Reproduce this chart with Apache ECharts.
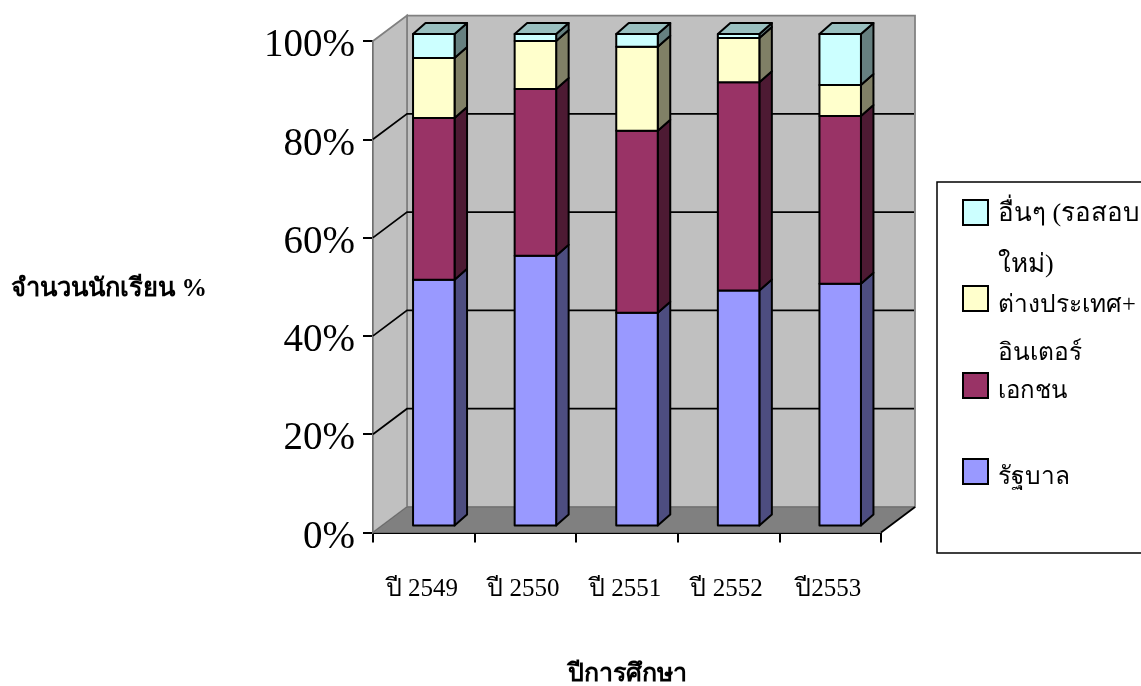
<!DOCTYPE html>
<html><head><meta charset="utf-8">
<style>html,body{margin:0;padding:0;background:#fff}#c{width:1141px;height:686px}</style>
<script src="https://cdn.jsdelivr.net/npm/echarts@6/dist/echarts.min.js"></script>
</head><body><div id="c"></div>
<script>
const categories = ['ปี 2549','ปี 2550','ปี 2551','ปี 2552','ปี2553'];
const govt    = [50.0, 54.9, 43.3, 47.8, 49.2];
const priv    = [32.9, 33.9, 37.0, 42.4, 34.1];
const abroad  = [12.2,  9.8, 17.1,  9.0,  6.3];
const other   = [ 4.9,  1.4,  2.6,  0.8, 10.4];
const yTicks  = [0, 20, 40, 60, 80, 100];
const seriesNames = ['รัฐบาล','เอกชน','ต่างประเทศ+ อินเตอร์','อื่นๆ (รอสอบ ใหม่)'];
const seriesValues = [govt, priv, abroad, other];
const faceColors = ['#9999FF','#993366','#FFFFCC','#CCFFFF'];
const sideColors = ['#4D4D80','#4D1A33','#808066','#668080'];
const topColors  = ['#7373BF','#73264D','#BFBF99','#99BFBF'];
const FONT = '"Liberation Serif","Times New Roman",serif';
const WALL = [34, -25.5], BAR_D = [12.5, -11], BAR_OFF = [10, -7], BAR_W = 41.5;

function wallItem(params, api) {
  const cs = params.coordSys, L = cs.x, R = cs.x + cs.width, T = cs.y, B = cs.y + cs.height;
  const dx = WALL[0], dy = WALL[1];
  const ch = [
    {type:'polygon', shape:{points:[[L+dx,T+dy],[R+dx,T+dy],[R+dx,B+dy],[L+dx,B+dy]]}, style:{fill:'#C0C0C0',stroke:'#808080',lineWidth:1.75}},
    {type:'polygon', shape:{points:[[L,T],[L+dx,T+dy],[L+dx,B+dy],[L,B]]}, style:{fill:'#C0C0C0',stroke:'#808080',lineWidth:1.75}},
    {type:'polygon', shape:{points:[[L,B],[L+dx,B+dy],[R+dx,B+dy],[R,B]]}, style:{fill:'#808080',stroke:'#6a6a6a',lineWidth:1}},
    {type:'line', shape:{x1:R,y1:B,x2:R+dx,y2:B+dy}, style:{stroke:'#000',lineWidth:1.75}}
  ];
  yTicks.forEach(v => {
    if (v === 0 || v === 100) return;
    const y = api.coord([0, v])[1];
    ch.push({type:'polyline', shape:{points:[[L,y],[L+dx,y+dy],[R+dx-1,y+dy]]}, style:{stroke:'#000',fill:null,lineWidth:1.75}});
  });
  return {type:'group', children:ch};
}

function barItem(si) {
  return function (params, api) {
    const i = api.value(0), base = api.value(1), val = api.value(2);
    const cx = api.coord([i, 0])[0] + BAR_OFF[0];
    const x0 = cx - BAR_W / 2, x1 = cx + BAR_W / 2;
    const y0 = api.coord([i, base])[1] + BAR_OFF[1];
    const y1 = api.coord([i, base + val])[1] + BAR_OFF[1];
    const dx = BAR_D[0], dy = BAR_D[1], st = {stroke:'#000', lineWidth:2, lineJoin:'round'};
    const ch = [
      {type:'polygon', shape:{points:[[x1,y0],[x1+dx,y0+dy],[x1+dx,y1+dy],[x1,y1]]}, style:{...st, fill:sideColors[si]}},
      {type:'rect', shape:{x:x0,y:y1,width:BAR_W,height:y0-y1}, style:{...st, fill:faceColors[si]}}
    ];
    if (si === seriesValues.length - 1) ch.push(
      {type:'polygon', shape:{points:[[x0,y1],[x0+dx,y1+dy],[x1+dx,y1+dy],[x1,y1]]}, style:{...st, fill:topColors[si]}}
    );
    return {type:'group', children:ch};
  };
}

const series = [{
  type:'custom', name:'wall', silent:true, z:1, renderItem:wallItem, data:[[0,0]],
  encode:{x:0,y:1}, clip:false
}];
seriesValues.forEach((vals, si) => {
  series.push({
    type:'custom', name:seriesNames[si], z:3+si, clip:false, renderItem:barItem(si),
    itemStyle:{color:faceColors[si]},
    encode:{x:0,y:[1,2]},
    data: vals.map((v, i) => {
      let base = 0;
      for (let k = 0; k < si; k++) base += seriesValues[k][i];
      return [i, base, v];
    })
  });
});

const legendRows = [
  {swatch:3, sy:200, lines:[['อื่นๆ (รอสอบ',214,26],['ใหม่)',265,26]]},
  {swatch:2, sy:286, lines:[['ต่างประเทศ+',306,24.5],['อินเตอร์',354,24.5]]},
  {swatch:1, sy:373, lines:[['เอกชน',392,24]]},
  {swatch:0, sy:459, lines:[['รัฐบาล',478,24.5]]}
];
const graphic = [{type:'rect', x:937, y:182, z:10, shape:{width:220,height:371}, style:{fill:'#fff',stroke:'#000',lineWidth:1.5}}];
legendRows.forEach(r => {
  graphic.push({type:'rect', x:963, y:r.sy, z:11, shape:{width:25,height:25}, style:{fill:faceColors[r.swatch],stroke:'#000',lineWidth:2}});
  r.lines.forEach(l => graphic.push({type:'text', x:998, y:l[1], z:11,
    style:{text:l[0], font:l[2]+'px '+FONT, fill:'#000', textVerticalAlign:'middle', textAlign:'left'}}));
});

const chart = echarts.init(document.getElementById('c'), null, {renderer:'canvas'});
chart.setOption({
  animation:false, backgroundColor:'#fff',
  grid:{left:373, right:260, top:41, bottom:153.5, containLabel:false, outerBoundsMode:'none'},
  xAxis:{type:'category', data:categories, boundaryGap:true,
    axisLine:{show:true,lineStyle:{color:'#000',width:2}},
    axisTick:{show:true,length:10,alignWithLabel:false,lineStyle:{color:'#000',width:2}},
    axisLabel:{interval:0,margin:44,fontSize:25,fontFamily:FONT,color:'#000',padding:[0,4,0,0]},
    name:'ปีการศึกษา', nameLocation:'middle', nameGap:130,
    nameTextStyle:{fontSize:25,fontWeight:'bold',fontFamily:FONT,color:'#000'}
  },
  yAxis:{type:'value', min:0, max:100, interval:20,
    splitLine:{show:false},
    axisLine:{show:true,lineStyle:{color:'#000',width:2}},
    axisTick:{show:true,length:10,lineStyle:{color:'#000',width:2}},
    axisLabel:{margin:18,fontSize:39,fontFamily:FONT,color:'#000',formatter:'{value}%',verticalAlign:'top',lineHeight:10},
    name:'จำนวนนักเรียน %', nameLocation:'middle', nameRotate:0, nameGap:264,
    nameTextStyle:{fontSize:25.5,fontWeight:'bold',fontFamily:FONT,color:'#000',align:'center',verticalAlign:'top',lineHeight:6}
  },
  series, graphic
});
</script></body></html>
